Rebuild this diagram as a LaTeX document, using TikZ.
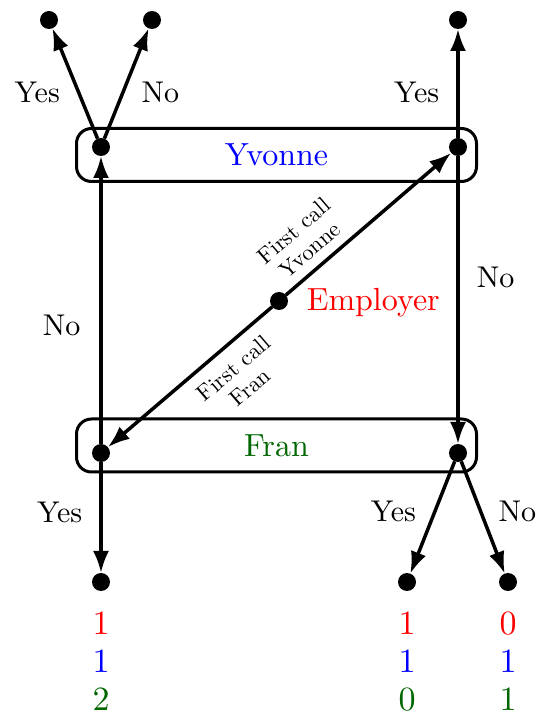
\documentclass[tikz,border=0pt]{standalone}
\usepackage{fontspec}
\setmainfont{lmroman10-regular.otf}
\usetikzlibrary{arrows.meta,positioning}
\tikzset{>={Latex[length=22pt,width=16pt]}}
\definecolor{dkgreen}{rgb}{0,0.4,0}
\tikzset{
  dot/.style={circle,fill,inner sep=0pt,outer sep=0pt,minimum size=18pt},
  infoset/.style={draw,line width=3pt,rounded corners=15pt,minimum width=400pt,minimum height=53pt,font=\fontsize{32}{38}\selectfont},
  lab/.style={inner sep=0pt,font=\fontsize{30}{36}\selectfont},
  call/.style={inner sep=0pt,align=center,sloped,font=\fontsize{22.5}{25}\selectfont},
  pay/.style={inner sep=0pt,align=center,font=\fontsize{34}{38}\selectfont}
}

\begin{document}
\begin{tikzpicture}[x=1pt,y=1pt,line width=3.5pt]
  \useasboundingbox (0,0) rectangle (551,724);
  \node[infoset,text=blue] (ybox) at (276.5,569) {Yvonne};
  \node[infoset,text=dkgreen] (fbox) at (276.5,278.5) {Fran};
  \node[dot] (emp) at (279,423) {};
  \node[dot] (yl) at (101,577) {};
  \node[dot] (yr) at (458,577) {};
  \node[dot] (fl) at (101,271) {};
  \node[dot] (fr) at (458,271) {};
  \node[dot] (t1) at (49,704) {};
  \node[dot] (t2) at (152,704) {};
  \node[dot] (t3) at (458,704) {};
  \node[dot] (b1) at (101,142) {};
  \node[dot] (b2) at (407,142) {};
  \node[dot] (b3) at (508,142) {};
  \node[lab,font=\fontsize{32}{38}\selectfont,text=red,right=17pt of emp,yshift=-1.5pt] (emplab) {Employer};
  \draw[->] (emp) -- node[call,pos=0.22,above=9pt] {First call\\Yvonne} (yr);
  \draw[->] (emp) -- node[call,pos=0.32,below=12pt] {First call\\Fran} (fl);
  \draw[->] (fl) -- node[lab,pos=0.41,left=19pt] {No} (yl);
  \draw[->] (yr) -- node[lab,pos=0.42,right=17pt] {No} (fr);
  \draw[->] (yl) -- node[lab,pos=0.42,left=17pt] {Yes} (t1);
  \draw[->] (yl) -- node[lab,pos=0.42,right=17pt] {No} (t2);
  \draw[->] (yr) -- node[lab,pos=0.42,left=17pt] {Yes} (t3);
  \draw[->] (fl) -- node[lab,pos=0.45,left=17pt] {Yes} (b1);
  \draw[->] (fr) -- node[lab,pos=0.45,left=17pt] {Yes} (b2);
  \draw[->] (fr) -- node[lab,pos=0.45,right=16pt] {No} (b3);
  \node[pay,below=19.5pt of b1] (pay1) {\textcolor{red}{1}\\\textcolor{blue}{1}\\\textcolor{dkgreen}{2}};
  \node[pay,below=19.5pt of b2] (pay2) {\textcolor{red}{1}\\\textcolor{blue}{1}\\\textcolor{dkgreen}{0}};
  \node[pay,below=19.5pt of b3] (pay3) {\textcolor{red}{0}\\\textcolor{blue}{1}\\\textcolor{dkgreen}{1}};
\end{tikzpicture}
\end{document}
